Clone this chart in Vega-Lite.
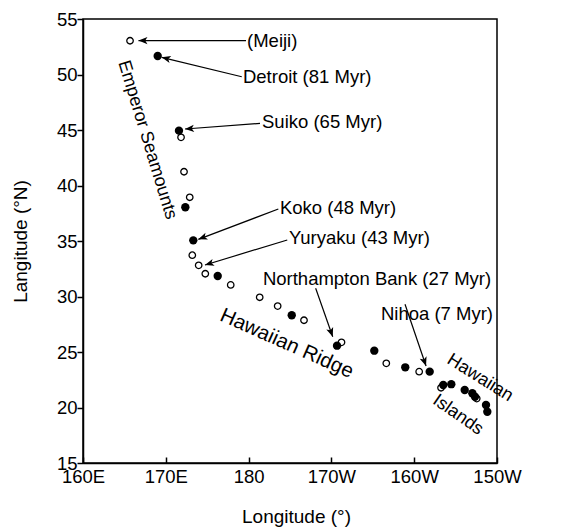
{
  "$schema": "https://vega.github.io/schema/vega-lite/v6.json",
  "width": 414,
  "height": 444,
  "autosize": {"type": "none"},
  "padding": {"left": 83, "top": 19, "right": 66, "bottom": 66},
  "background": "white",
  "config": {
    "font": "Liberation Sans",
    "view": {"stroke": "black", "strokeWidth": 1.5},
    "axis": {
      "domainColor": "black",
      "domainWidth": 1.5,
      "tickColor": "black",
      "tickWidth": 1.5,
      "labelColor": "black",
      "titleColor": "black",
      "labelFont": "Liberation Sans",
      "titleFont": "Liberation Sans",
      "labelFontSize": 18.5,
      "titleFontSize": 19,
      "titleFontWeight": "normal",
      "grid": false,
      "labelFlush": false,
      "labelOverlap": false
    }
  },
  "datasets": {
    "points": [
      {"lon": 165.68, "lat": 53.04, "type": "open"},
      {"lon": 169.02, "lat": 51.67, "type": "filled"},
      {"lon": 171.59, "lat": 44.94, "type": "filled"},
      {"lon": 171.84, "lat": 44.34, "type": "open"},
      {"lon": 172.20, "lat": 41.24, "type": "open"},
      {"lon": 172.89, "lat": 38.94, "type": "open"},
      {"lon": 172.36, "lat": 38.04, "type": "filled"},
      {"lon": 173.32, "lat": 35.06, "type": "filled"},
      {"lon": 173.20, "lat": 33.72, "type": "open"},
      {"lon": 173.97, "lat": 32.81, "type": "open"},
      {"lon": 174.77, "lat": 32.05, "type": "open"},
      {"lon": 176.27, "lat": 31.85, "type": "filled"},
      {"lon": 177.84, "lat": 31.04, "type": "open"},
      {"lon": 181.34, "lat": 29.93, "type": "open"},
      {"lon": 183.51, "lat": 29.14, "type": "open"},
      {"lon": 185.21, "lat": 28.31, "type": "filled"},
      {"lon": 186.69, "lat": 27.86, "type": "open"},
      {"lon": 191.22, "lat": 25.87, "type": "open"},
      {"lon": 190.68, "lat": 25.57, "type": "filled"},
      {"lon": 195.18, "lat": 25.12, "type": "filled"},
      {"lon": 196.63, "lat": 23.98, "type": "open"},
      {"lon": 198.92, "lat": 23.62, "type": "filled"},
      {"lon": 200.60, "lat": 23.23, "type": "open"},
      {"lon": 201.87, "lat": 23.23, "type": "filled"},
      {"lon": 203.24, "lat": 21.78, "type": "open"},
      {"lon": 203.51, "lat": 22.03, "type": "filled"},
      {"lon": 204.48, "lat": 22.10, "type": "filled"},
      {"lon": 206.10, "lat": 21.58, "type": "filled"},
      {"lon": 207.02, "lat": 21.28, "type": "filled"},
      {"lon": 207.34, "lat": 20.97, "type": "filled"},
      {"lon": 207.55, "lat": 20.80, "type": "open"},
      {"lon": 208.67, "lat": 20.23, "type": "filled"},
      {"lon": 208.83, "lat": 19.62, "type": "filled"}
    ],
    "arrows": [
      {"name": "(Meiji)", "sx": 179.69, "sy": 53.06, "tx": 166.70, "ty": 53.06, "lx": 179.81, "ly": 53.06, "pos": "left"},
      {"name": "Detroit (81 Myr)", "sx": 179.17, "sy": 49.80, "tx": 169.50, "ty": 51.55, "lx": 179.32, "ly": 49.77, "pos": "left"},
      {"name": "Suiko (65 Myr)", "sx": 181.38, "sy": 45.60, "tx": 172.32, "ty": 45.09, "lx": 181.62, "ly": 45.72, "pos": "left"},
      {"name": "Koko (48 Myr)", "sx": 183.59, "sy": 37.88, "tx": 173.93, "ty": 35.15, "lx": 183.79, "ly": 37.97, "pos": "left"},
      {"name": "Yuryaku (43 Myr)", "sx": 184.67, "sy": 35.09, "tx": 174.73, "ty": 32.84, "lx": 184.88, "ly": 35.27, "pos": "left"},
      {"name": "Northampton Bank (27 Myr)", "sx": 188.10, "sy": 30.74, "tx": 190.16, "ty": 26.38, "lx": 195.51, "ly": 31.58, "pos": "center"},
      {"name": "Nihoa (7 Myr)", "sx": 198.89, "sy": 29.30, "tx": 201.43, "ty": 23.74, "lx": 202.75, "ly": 28.42, "pos": "center"}
    ],
    "emperor": [{"text": "Emperor Seamounts", "lon": 167.75, "lat": 44.10}],
    "ridge": [{"text": "Hawaiian Ridge", "lon": 184.60, "lat": 25.75}],
    "hawaiian": [{"text": "Hawaiian", "lon": 207.95, "lat": 22.66}],
    "islands": [{"text": "Islands", "lon": 205.29, "lat": 19.32}]
  },
  "layer": [
    {
      "data": {"name": "arrows"},
      "mark": {"type": "rule", "color": "black", "strokeWidth": 1.2},
      "encoding": {
        "x": {"field": "sx", "type": "quantitative", "scale": {"domain": [160, 210], "nice": false, "zero": false},
          "axis": {"values": [160, 170, 180, 190, 200, 210], "tickSize": -6, "labelPadding": 10,
            "labelExpr": "datum.value < 180 ? datum.value + 'E' : (datum.value == 180 ? '180' : (360 - datum.value) + 'W')",
            "title": "Longitude (°)", "titlePadding": 22, "titleX": 213}},
        "y": {"field": "sy", "type": "quantitative", "scale": {"domain": [15, 55], "nice": false, "zero": false},
          "axis": {"values": [15, 20, 25, 30, 35, 40, 45, 50, 55], "tickSize": 6, "labelPadding": 0,
            "title": "Langitude (°N)", "titlePadding": 26}},
        "x2": {"field": "tx"},
        "y2": {"field": "ty"}
      }
    },
    {
      "data": {"name": "arrows"},
      "transform": [
        {"calculate": "atan2(-(datum.ty - datum.sy) * 11.1, (datum.tx - datum.sx) * 8.28) * 180 / PI", "as": "ang"}
      ],
      "mark": {"type": "point", "shape": "M0,0L-2,-0.8L-1.5,0L-2,0.8Z", "filled": true, "color": "black", "size": 81, "opacity": 1},
      "encoding": {
        "x": {"field": "tx", "type": "quantitative"},
        "y": {"field": "ty", "type": "quantitative"},
        "angle": {"field": "ang", "type": "quantitative", "scale": null}
      }
    },
    {
      "data": {"name": "points"},
      "transform": [{"filter": "datum.type == 'open'"}],
      "mark": {"type": "point", "shape": "circle", "filled": false, "fill": "white", "stroke": "black", "strokeWidth": 1.3, "size": 42, "opacity": 1},
      "encoding": {
        "x": {"field": "lon", "type": "quantitative"},
        "y": {"field": "lat", "type": "quantitative"}
      }
    },
    {
      "data": {"name": "points"},
      "transform": [{"filter": "datum.type == 'filled'"}],
      "mark": {"type": "point", "shape": "circle", "filled": true, "color": "black", "size": 70, "opacity": 1},
      "encoding": {
        "x": {"field": "lon", "type": "quantitative"},
        "y": {"field": "lat", "type": "quantitative"}
      }
    },
    {
      "data": {"name": "arrows"},
      "transform": [{"filter": "datum.pos == 'left'"}],
      "mark": {"type": "text", "align": "left", "baseline": "middle", "fontSize": 18.5, "color": "black"},
      "encoding": {
        "x": {"field": "lx", "type": "quantitative"},
        "y": {"field": "ly", "type": "quantitative"},
        "text": {"field": "name"}
      }
    },
    {
      "data": {"name": "arrows"},
      "transform": [{"filter": "datum.pos == 'center'"}],
      "mark": {"type": "text", "align": "center", "baseline": "middle", "fontSize": 18.5, "color": "black"},
      "encoding": {
        "x": {"field": "lx", "type": "quantitative"},
        "y": {"field": "ly", "type": "quantitative"},
        "text": {"field": "name"}
      }
    },
    {
      "data": {"name": "emperor"},
      "mark": {"type": "text", "align": "center", "baseline": "middle", "fontSize": 18, "angle": 73, "color": "black"},
      "encoding": {
        "x": {"field": "lon", "type": "quantitative"},
        "y": {"field": "lat", "type": "quantitative"},
        "text": {"field": "text"}
      }
    },
    {
      "data": {"name": "ridge"},
      "mark": {"type": "text", "align": "center", "baseline": "middle", "fontSize": 20.5, "angle": 24, "color": "black"},
      "encoding": {
        "x": {"field": "lon", "type": "quantitative"},
        "y": {"field": "lat", "type": "quantitative"},
        "text": {"field": "text"}
      }
    },
    {
      "data": {"name": "hawaiian"},
      "mark": {"type": "text", "align": "center", "baseline": "middle", "fontSize": 18, "angle": 32, "color": "black"},
      "encoding": {
        "x": {"field": "lon", "type": "quantitative"},
        "y": {"field": "lat", "type": "quantitative"},
        "text": {"field": "text"}
      }
    },
    {
      "data": {"name": "islands"},
      "mark": {"type": "text", "align": "center", "baseline": "middle", "fontSize": 18, "angle": 35, "color": "black"},
      "encoding": {
        "x": {"field": "lon", "type": "quantitative"},
        "y": {"field": "lat", "type": "quantitative"},
        "text": {"field": "text"}
      }
    }
  ]
}
